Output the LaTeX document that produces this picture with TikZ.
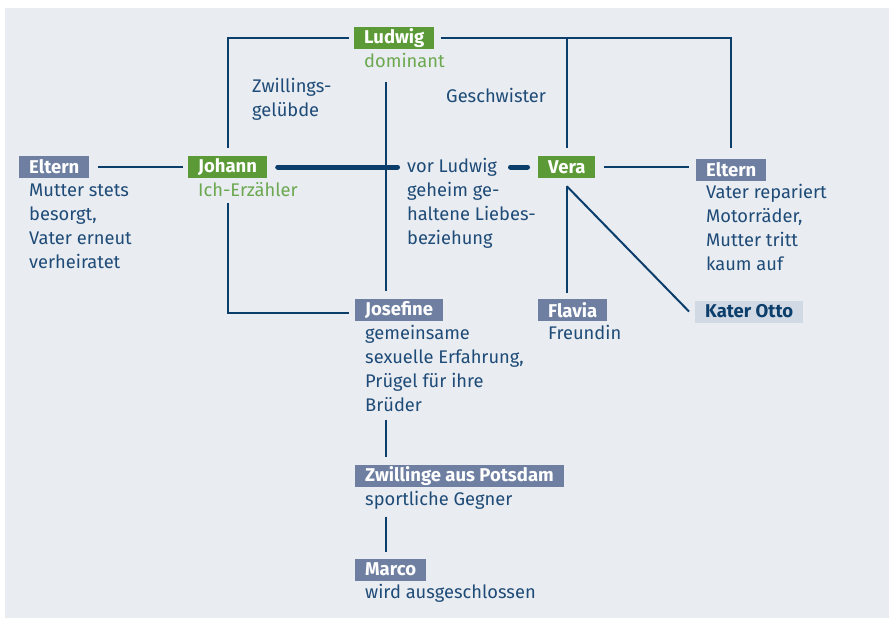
\documentclass[tikz,border=0pt]{standalone}
\usepackage{fontspec}
\setmainfont{Fira Sans}
\definecolor{bgc}{HTML}{E9ECF1}
\definecolor{linec}{HTML}{0C3E6C}
\definecolor{textc}{HTML}{1E4B77}
\definecolor{slatec}{HTML}{6E7FA1}
\definecolor{greenc}{HTML}{5B9A36}
\definecolor{greentxt}{HTML}{6BA84F}
\definecolor{palec}{HTML}{D1D9E5}
\tikzset{
  box/.style={anchor=west, minimum height=22pt, inner xsep=10pt, inner ysep=0pt,
    font=\fontsize{18.5}{21}\selectfont\bfseries, text=white},
  slatebox/.style={box, fill=slatec},
  greenbox/.style={box, fill=greenc},
  palebox/.style={box, fill=palec, text=linec},
  txt/.style={anchor=north west, inner sep=0pt, align=left,
    font=\fontsize{18.3}{24}\selectfont, text=textc},
  greentext/.style={txt, text=greentxt},
  con/.style={draw=linec, line width=2pt},
  thickcon/.style={draw=linec, line width=5pt, line cap=round}
}
\begin{document}
\begin{tikzpicture}[x=1pt,y=-1pt]
\useasboundingbox (0,0) rectangle (891,618);
\fill[bgc] (5,8) rectangle (889,618);

% boxes
\node[greenbox] (ludwig) at (354,38) {Ludwig};
\node[slatebox] (eltL) at (19,167) {Eltern};
\node[greenbox] (johann) at (188,167) {Johann};
\node[greenbox] (vera) at (538,167) {Vera};
\node[slatebox] (eltR) at (696,169.5) {Eltern};
\node[slatebox] (jos) at (355,310) {Josefine};
\node[slatebox] (flavia) at (538,310) {Flavia};
\node[palebox] (kater) at (695,311.5) {Kater Otto};
\node[slatebox] (zw) at (355,476) {Zwillinge aus Potsdam};
\node[slatebox] (marco) at (355,569.5) {Marco};

% texts
\node[greentext] (dom) at ([xshift=10pt,yshift=-1pt]ludwig.south west) {\strut dominant};
\node[greentext] (ich) at ([xshift=10pt,yshift=-1pt]johann.south west) {\strut Ich-Erzähler};
\node[txt] (eltLt) at ([xshift=10pt,yshift=-1pt]eltL.south west) {\strut Mutter stets\\besorgt,\\Vater erneut\\verheiratet};
\node[txt] (eltRt) at ([xshift=10pt,yshift=-1pt]eltR.south west) {\strut Vater repariert\\Motorräder,\\Mutter tritt\\kaum auf};
\node[txt] (jost) at ([xshift=10pt,yshift=-1pt]jos.south west) {\strut gemeinsame\\sexuelle Erfahrung,\\Prügel für ihre\\Brüder};
\node[txt] (flaviat) at ([xshift=10pt,yshift=-1pt]flavia.south west) {\strut Freundin};
\node[txt] (zwt) at ([xshift=10pt,yshift=-1pt]zw.south west) {\strut sportliche Gegner};
\node[txt] (marcot) at ([xshift=10pt,yshift=-1pt]marco.south west) {\strut wird ausgeschlossen};
\node[txt] (zwg) at (252,75) {\strut Zwillings-\\gelübde};
\node[txt] (gesch) at (446,85) {\strut Geschwister};
\node[txt] (liebe) at (407,155) {\strut vor Ludwig\\geheim ge-\\haltene Liebes-\\beziehung};

\coordinate (vx) at (386,0);

% connectors
\draw[con, shorten <=5pt, shorten >=8pt] (ludwig.west) -| (johann.north);
\draw[con, shorten <=6pt, shorten >=10pt] (ludwig.east) -| (eltR.north);
\draw[con, shorten >=8pt] (vera.north |- ludwig.east) -- (vera.north);
\draw[con, shorten <=7pt, shorten >=8pt] (vx |- dom.south) -- (vx |- jos.north);
\draw[con, shorten <=8pt, shorten >=5pt] (eltL.east) -- (johann.west);
\draw[thickcon, shorten <=10.5pt, shorten >=9.5pt] (johann.east) -- (johann.east -| liebe.west);
\draw[thickcon, shorten <=10.5pt, shorten >=10.5pt] (johann.east -| 500,0) -- (vera.west);
\draw[con, shorten <=8pt, shorten >=7pt] (vera.east) -- (vera.east -| eltR.west);
\draw[con, shorten <=8pt, shorten >=6pt] (vera.south) -- (vera.south |- flavia.north);
\draw[con] ([yshift=-8pt]vera.south) -- ([xshift=-6pt]kater.west);
\draw[con, shorten >=6pt] ([yshift=-25pt]johann.south) |- ([yshift=-3pt]jos.west);
\draw[con, shorten <=8pt, shorten >=8pt] (vx |- jost.south) -- (vx |- zw.north);
\draw[con, shorten <=4pt, shorten >=6pt] (vx |- zwt.south) -- (vx |- marco.north);
\end{tikzpicture}
\end{document}
